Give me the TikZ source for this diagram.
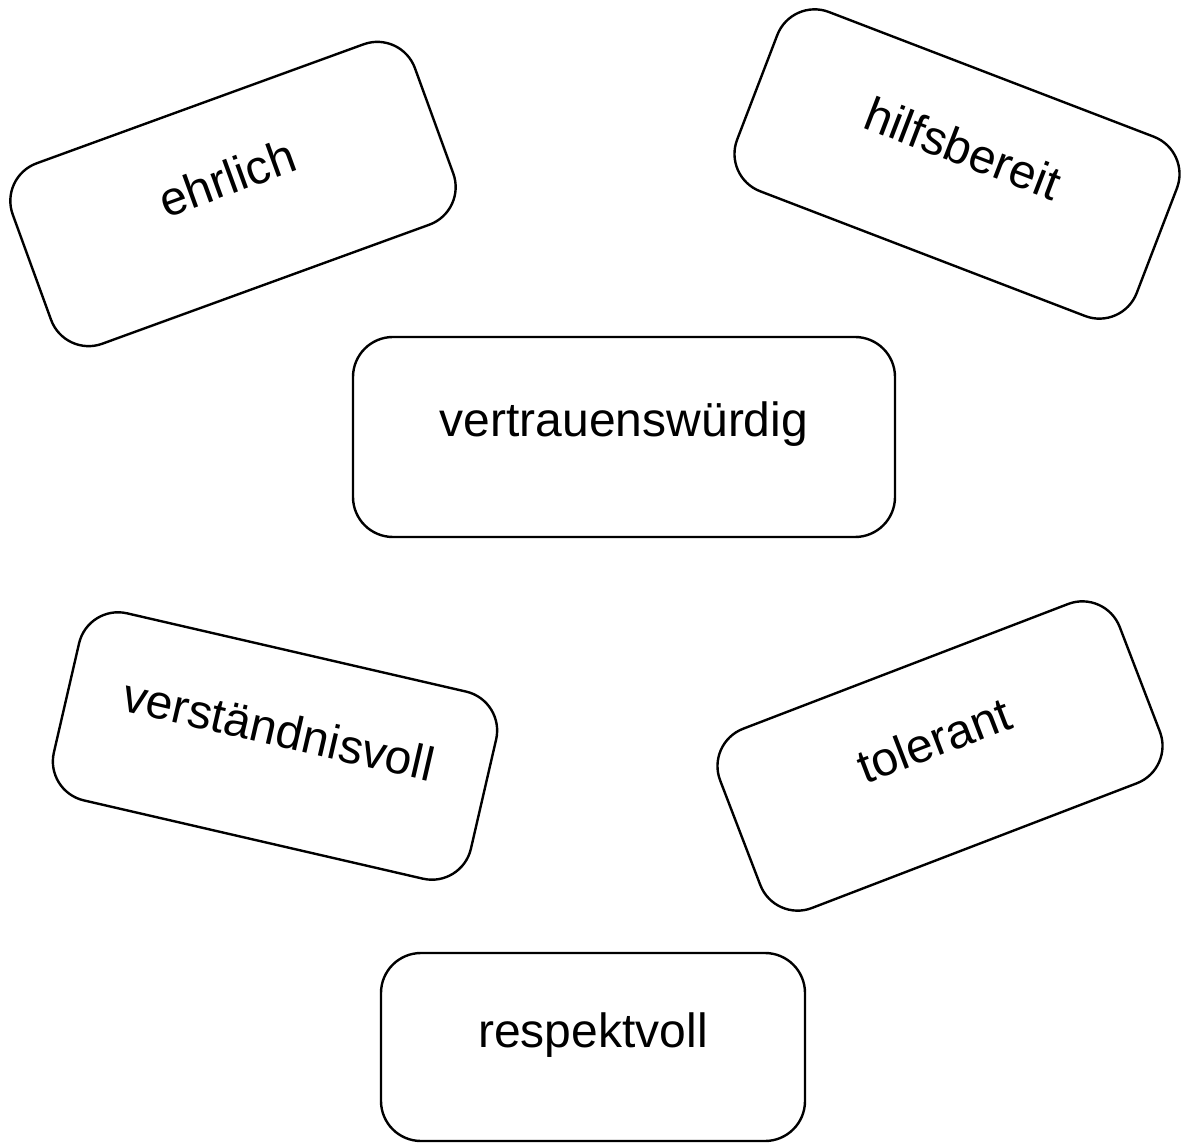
\documentclass[tikz,border=0pt]{standalone}
\usepackage{fontspec}
\setmainfont{Liberation Sans}

\tikzset{
    card/.style={draw, line width=1.2pt, rounded corners=20pt,
        minimum width=214pt, minimum height=96pt, inner sep=0pt,
        text height=8pt, text depth=8pt, font=\fontsize{24}{28}\selectfont},
}

\begin{document}
\begin{tikzpicture}[x=0.5pt, y=-0.5pt]
    \useasboundingbox (0,0) rectangle (1184,1144);
    \node[card, rotate=20] (ehrlich) at (233,194) {ehrlich};
    \node[card, rotate=-21] (hilfs) at (957,164) {hilfsbereit};
    \node[card, minimum width=271pt, minimum height=100pt] (vertrauen) at (624,437) {vertrauenswürdig};
    \node[card, rotate=-13] (verstaendnis) at (275,746) {verständnisvoll};
    \node[card, rotate=21] (tolerant) at (940,756) {tolerant};
    \node[card, minimum width=212pt, minimum height=94pt] (respekt) at (593,1047) {respektvoll};
\end{tikzpicture}
\end{document}
